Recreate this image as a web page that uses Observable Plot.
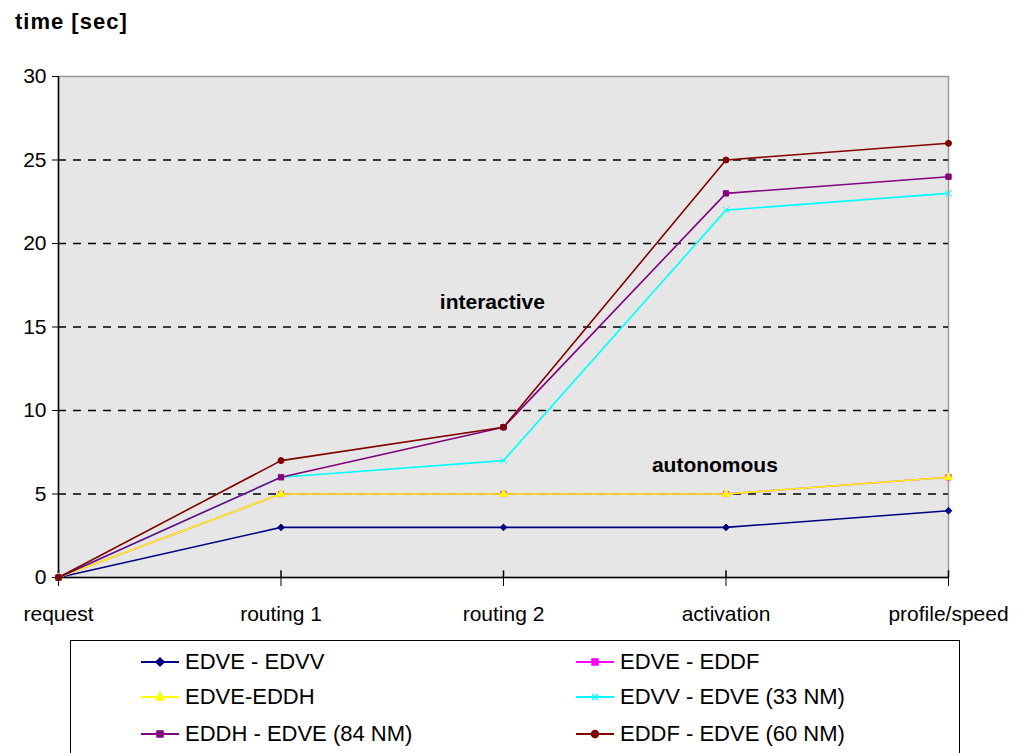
<!DOCTYPE html>
<html>
<head>
<meta charset="utf-8">
<script src="https://cdn.jsdelivr.net/npm/d3@7"></script>
<script src="https://cdn.jsdelivr.net/npm/@observablehq/plot@0.6"></script>
<style>
  body { margin: 0; background: #fff; font-family: "Liberation Sans", Arial, sans-serif; width: 1022px; height: 753px; overflow: hidden; position: relative; }
  #title { position: absolute; left: 15px; top: 9px; font-weight: bold; font-size: 22px; letter-spacing: 1px; }
  #chart { position: absolute; left: 0; top: 45px; }
  #legend { position: absolute; left: 70px; top: 640px; width: 890px; height: 140px; border: 1px solid #000; box-sizing: border-box; }
  .item { position: absolute; display: flex; align-items: center; font-size: 22px; white-space: nowrap; }
  .item svg { margin-right: 6px; }
</style>
</head>
<body>
<div id="title">time [sec]</div>
<div id="chart"></div>
<div id="legend"></div>
<script>
const categories = ["request", "routing 1", "routing 2", "activation", "profile/speed"];
const seriesNames = ["EDVE - EDVV", "EDVE - EDDF", "EDVE-EDDH", "EDVV - EDVE (33 NM)", "EDDH - EDVE (84 NM)", "EDDF - EDVE (60 NM)"];
const seriesColors = ["#000080", "#ff00ff", "#ffff00", "#00ffff", "#800080", "#800000"];
const seriesSymbols = ["diamond2", "square", "triangle", "times", "square", "circle"];
const edveEdvv   = [0, 3, 3, 3, 4];
const edveEddf   = [0, 5, 5, 5, 6];
const edveEddh   = [0, 5, 5, 5, 6];
const edvvEdve33 = [0, 6, 7, 22, 23];
const eddhEdve84 = [0, 6, 9, 23, 24];
const eddfEdve60 = [0, 7, 9, 25, 26];
const yTicks = [0, 5, 10, 15, 20, 25, 30];
const gridValues = [5, 10, 15, 20, 25];
const annotations = ["interactive", "autonomous"];
const annoX = [1.95, 2.95];
const annoY = [16.5, 6.7];

const seriesValues = [edveEdvv, edveEddf, edveEddh, edvvEdve33, eddhEdve84, eddfEdve60];
const data = [];
seriesNames.forEach((name, s) => {
  seriesValues[s].forEach((v, i) => data.push({series: name, x: i, y: v}));
});
const annoData = annotations.map((t, i) => ({text: t, x: annoX[i], y: annoY[i]}));
const catIdx = categories.map((c, i) => i);

const plot = Plot.plot({
  width: 1022,
  height: 595,
  marginLeft: 58,
  marginRight: 74,
  marginTop: 31,
  marginBottom: 63,
  style: {fontFamily: "'Liberation Sans', Arial, sans-serif", fontSize: "21px", background: "transparent"},
  x: {type: "linear", domain: [0, categories.length - 1]},
  y: {domain: [0, 30]},
  color: {domain: seriesNames, range: seriesColors},
  symbol: {domain: seriesNames, range: seriesSymbols},
  marks: [
    Plot.frame({fill: "#e6e6e6", stroke: "#9a9a9a", strokeWidth: 1.5}),
    Plot.ruleY(gridValues, {stroke: "#000", strokeWidth: 1.6, strokeDasharray: "8,7"}),
    Plot.ruleY([0], {stroke: "#000", strokeWidth: 1.5}),
    Plot.ruleX([0], {stroke: "#000", strokeWidth: 1.5}),
    Plot.ruleX(catIdx, {x: d => d, y1: 0, y2: 0.4, stroke: "#000", strokeWidth: 1.5}),
    Plot.axisY({ticks: yTicks, tickSize: 6, tickPadding: 6, label: null, fontSize: 21, stroke: "#000"}),
    Plot.axisX({ticks: catIdx, tickFormat: i => categories[i], tickSize: 9, tickPadding: 20, label: null, fontSize: 21}),
    Plot.line(data, {x: "x", y: "y", z: "series", stroke: "series", strokeWidth: 1.6}),
    Plot.dot(data, {x: "x", y: "y", fill: "series", stroke: "series", symbol: "series", r: 3, strokeWidth: 1}),
    Plot.text(annoData, {x: "x", y: "y", text: "text", fontSize: 21, fontWeight: "bold", fill: "#000", letterSpacing: "2px"})
  ]
});
document.getElementById("chart").appendChild(plot);

// legend
const legend = document.getElementById("legend");
const legendPos = [[70, 22], [505, 22], [70, 57], [505, 57], [70, 94], [505, 94]];
const symPaths = {
  diamond2: "M0,-4L4,0L0,4L-4,0Z",
  square: "M-3,-3h6v6h-6Z",
  triangle: "M0,-4.5L4,3L-4,3Z",
  times: "M-3,-3L3,3M3,-3L-3,3",
  circle: "M3.5,0A3.5,3.5 0 1,1 -3.5,0A3.5,3.5 0 1,1 3.5,0Z"
};
seriesNames.forEach((name, i) => {
  const div = document.createElement("div");
  div.className = "item";
  div.style.left = legendPos[i][0] + "px";
  div.style.top = (legendPos[i][1] - 14) + "px";
  const c = seriesColors[i];
  div.innerHTML = `<svg width="38" height="16" viewBox="-19 -8 38 16"><line x1="-19" x2="19" y1="0" y2="0" stroke="${c}" stroke-width="2"/><path d="${symPaths[seriesSymbols[i]]}" fill="${c}" stroke="${c}" stroke-width="1.5"/></svg><span>${name}</span>`;
  legend.appendChild(div);
});
</script>
</body>
</html>
